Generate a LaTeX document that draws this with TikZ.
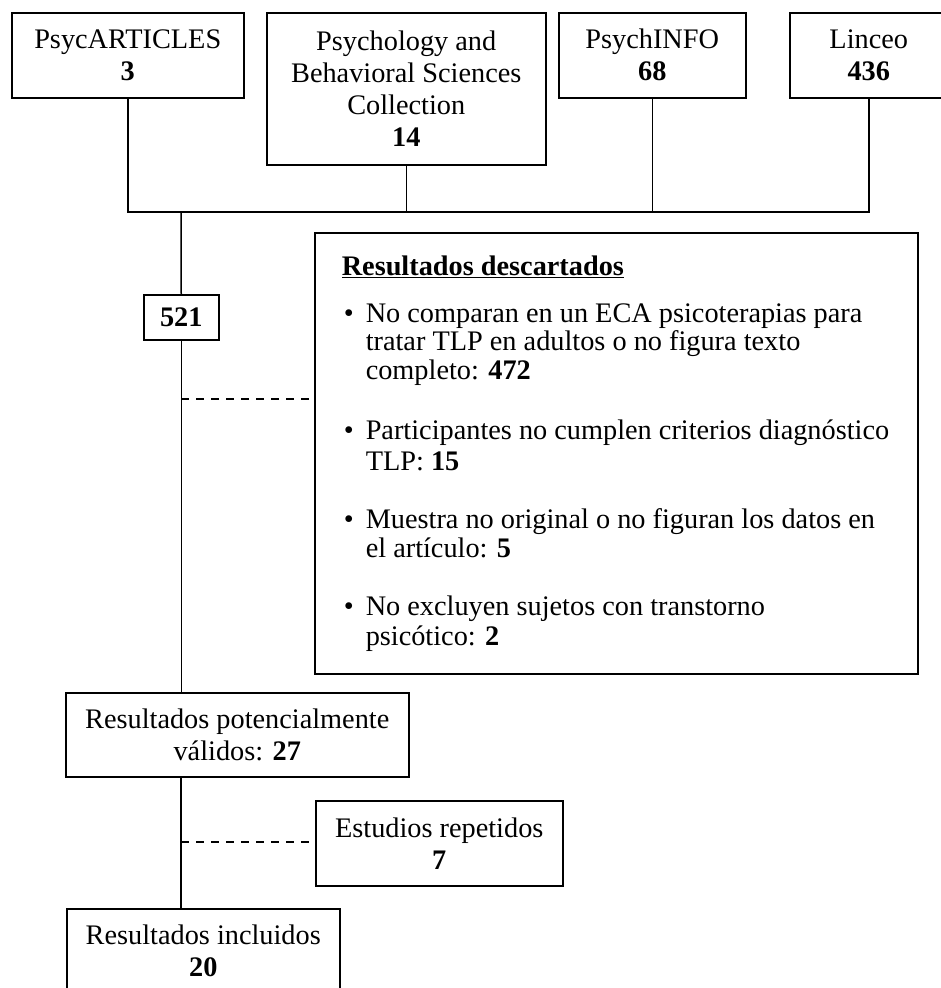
\documentclass[tikz,border=0pt]{standalone}
\usepackage{fontspec}
\setmainfont{Liberation Serif}

\begin{document}
\begin{tikzpicture}[x=1pt,y=-1pt,font=\fontsize{28.3}{32}\selectfont,line width=1.5pt,
  dbbox/.style={draw,anchor=north west,align=center,inner sep=0pt},
  txtline/.style={anchor=base west,inner sep=0pt},
  link/.style={dash pattern=on 8pt off 7pt}]
\useasboundingbox (0,0) rectangle (941,988);
\node [dbbox,minimum width=232,minimum height=85] (psyc) at (11,12) {PsycARTICLES\\\textbf{3}};
\node [dbbox,minimum width=279,minimum height=152] (pbsc) at (266,12) {Psychology and\\Behavioral Sciences\\Collection\\\textbf{14}};
\node [dbbox,minimum width=187,minimum height=85] (pinfo) at (558,12) {PsychINFO\\\textbf{68}};
\node [dbbox,minimum width=158,minimum height=85] (linceo) at (789,12) {Linceo\\\textbf{436}};
\coordinate (join) at (181,212);
\draw (psyc.south) |- (linceo.south |- join) -- (linceo.south);
\draw (pbsc.south) -- (pbsc.south |- join);
\draw (pinfo.south) -- (pinfo.south |- join);

\node [dbbox,minimum width=75,minimum height=45] (total) at (143,294) {\textbf{521}};
\node [draw,anchor=north west,minimum width=603,minimum height=441,inner sep=0pt] (desc) at (314,232) {};
\node [txtline] (title) at (341,275) {\textbf{\underline{Resultados descartados}}};
\foreach \yy [count=\k] in {322,439,528,615}
  \node [txtline] (dot\k) at (343,\yy) {\textbullet};
\foreach \yy/\txt [count=\k] in {322/{No comparan en un ECA psicoterapias para},350/{tratar TLP en adultos o no figura texto},379/{completo: \textbf{472}},439/{Participantes no cumplen criterios diagnóstico},470/{TLP: \textbf{15}},528/{Muestra no original o no figuran los datos en},557/{el artículo: \textbf{5}},615/{No excluyen sujetos con transtorno},645/{psicótico: \textbf{2}}}
  \node [txtline] (line\k) at (365,\yy) {\txt};

\node [dbbox,minimum width=343,minimum height=84] (pot) at (65,692) {Resultados potencialmente\\válidos: \textbf{27}};
\node [dbbox,minimum width=247,minimum height=85] (rep) at (315,800) {Estudios repetidos\\\textbf{7}};
\node [dbbox,minimum width=273,minimum height=84] (inc) at (66,908) {Resultados incluidos\\\textbf{20}};

\draw (join) -- (total.north);
\draw (total.south) -- (total.south |- pot.north);
\coordinate (cut1) at (181,399);
\draw [link] (cut1) -- (cut1 -| desc.west);
\draw (pot.south -| join) -- (inc.north -| join);
\coordinate (cut2) at (181,842);
\draw [link] (cut2) -- (cut2 -| rep.west);
\end{tikzpicture}
\end{document}
